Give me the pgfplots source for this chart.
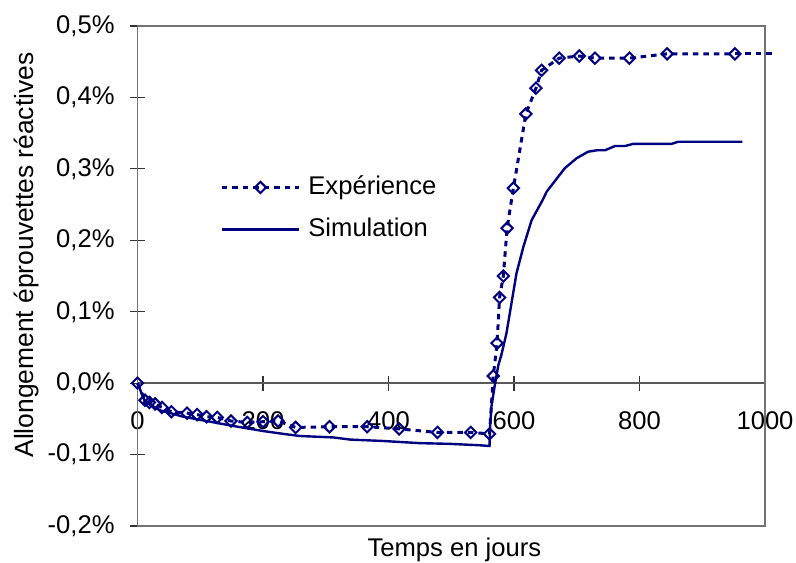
\documentclass[border=0pt]{standalone}
\usepackage{fontspec}
\setmainfont{Liberation Sans}
\usepackage{pgfplots}
\pgfplotsset{compat=1.18}
\definecolor{navy}{RGB}{0,0,128}
\begin{document}
\begin{tikzpicture}[font=\fontsize{12.8pt}{15pt}\selectfont]
\useasboundingbox (-68.75pt,-18pt) rectangle (329.25pt,263pt);
\begin{axis}[
  at={(0,0)}, anchor=south west,
  scale only axis, width=313.75pt, height=250pt,
  xmin=0, xmax=1000, ymin=-0.2, ymax=0.5,
  axis x line*=middle, axis y line*=left,
  hide obscured x ticks=false,
  x axis line style={black!65, line width=0.7pt},
  y axis line style={black, line width=0.9pt},
  xtick={0,200,400,600,800,1000},
  xticklabels={0,200,400,600,800,1000},
  ytick={-0.2,-0.1,0,0.1,0.2,0.3,0.4,0.5},
  yticklabels={{-0,2\%},{-0,1\%},{0,0\%},{0,1\%},{0,2\%},{0,3\%},{0,4\%},{0,5\%}},
  tick align=center, major tick length=7.5pt,
  tick style={black!80, line width=0.6pt},
  minor tick num=0,
  xticklabel style={anchor=base, inner sep=0pt, yshift=-19.5pt},
  yticklabel style={anchor=east, inner sep=0pt, xshift=-7.5pt},
  xlabel={Temps en jours},
  xlabel style={at={(rel axis cs:0.505,-0.061)}, anchor=base},
  ylabel={Allongement éprouvettes réactives},
  ylabel style={at={(rel axis cs:-0.1665,0.542)}, anchor=base, rotate=0, font=\fontsize{13.2pt}{15pt}\selectfont},
  clip=false,
  legend cell align=left,
  legend style={draw=none, fill=none, at={(rel axis cs:0.1315,0.706)}, anchor=north west,
    inner sep=0pt, row sep=7pt, column sep=3pt,
    nodes={inner sep=1pt, text height=9.5pt, text depth=2.5pt}},
  legend image code/.code={\draw[mark repeat=2, mark phase=2, #1] plot coordinates {(0pt,0pt) (19.25pt,0pt) (38.5pt,0pt)};},
]
\draw[black!55, line width=0.6pt] (rel axis cs:0,0) rectangle (rel axis cs:1,1);
\addplot[navy, line width=1.5pt, dash pattern=on 2.75pt off 2.5pt,
  mark=square, mark size=2pt,
  mark options={solid, rotate=45, line width=1pt, fill=white, draw=navy}]
  coordinates {
  (0,0) (12,-0.024) (19,-0.027) (28,-0.029) (39,-0.034) (54,-0.040)
  (79,-0.042) (95,-0.044) (110,-0.047) (127,-0.048) (149,-0.053) (175,-0.055)
  (200,-0.054) (224,-0.053) (252,-0.062) (306,-0.061) (366,-0.061) (417,-0.064)
  (478,-0.069) (531,-0.069) (561,-0.071) (567,0.010) (573,0.056) (577,0.120)
  (583,0.150) (589,0.217) (599,0.273) (619,0.377) (635,0.413) (644,0.438)
  (672,0.455) (704,0.458) (729,0.455) (784,0.455) (844,0.461) (952,0.461)
  };
\addlegendentry{Expérience}
\addplot[navy, line width=1.2pt, mark=none] coordinates {
  (0,0) (12,-0.026) (36,-0.038) (73,-0.047) (116,-0.054) (153,-0.060)
  (200,-0.067) (232,-0.071) (259,-0.074) (312,-0.076) (339,-0.079)
  (392,-0.081) (450,-0.084) (498,-0.085) (546,-0.087) (561,-0.088)
  (562,-0.060) (564,-0.033) (569,-0.005) (575,0.025) (580,0.040)
  (588,0.070) (596,0.112) (604,0.154) (615,0.191) (628,0.228)
  (646,0.257) (652,0.268) (681,0.301) (700,0.315) (718,0.324)
  (732,0.326) (745,0.326) (761,0.332) (777,0.332) (790,0.335)
  (851,0.335) (862,0.338) (964,0.338)
  };
\addlegendentry{Simulation}
\addplot[navy, line width=1.5pt, dash pattern=on 2.75pt off 2.5pt, forget plot]
  coordinates {(952,0.461) (1013,0.461)};
\end{axis}
\end{tikzpicture}
\end{document}
